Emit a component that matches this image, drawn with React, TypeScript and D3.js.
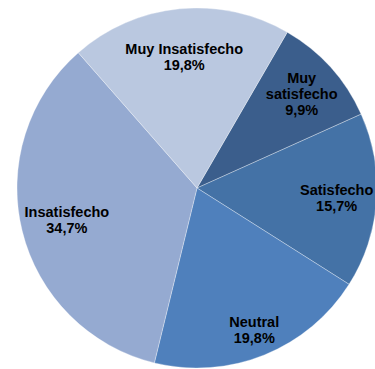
import React from "react";
import * as d3 from "d3";

const categories = ["Muy satisfecho", "Satisfecho", "Neutral", "Insatisfecho", "Muy Insatisfecho"];
const values = [9.9, 15.7, 19.8, 34.7, 19.8];
const labelLines = [
  ["Muy", "satisfecho", "9,9%"],
  ["Satisfecho", "15,7%"],
  ["Neutral", "19,8%"],
  ["Insatisfecho", "34,7%"],
  ["Muy Insatisfecho", "19,8%"],
];

const colors = ["#3B5E8C", "#4472A6", "#4F80BC", "#95AAD1", "#BAC8E0"];
const labelRadius = [141, 140, 153, 134, 132];

export default function App() {
  const W = 375, H = 369;
  const cx = 197, cy = 188, r = 180;
  const start = (30.1 * Math.PI) / 180;
  const pie = d3.pie<number>().sort(null).startAngle(start).endAngle(start + 2 * Math.PI);
  const arcs = pie(values);
  const arc = d3.arc<d3.PieArcDatum<number>>().innerRadius(0).outerRadius(r);
  const lineH = 16;
  return (
    <svg width={W} height={H} style={{ position: "absolute", left: 0, top: 0 }}>
      <g transform={`translate(${cx},${cy})`}>
        {arcs.map((a, i) => (
          <path key={i} d={arc(a) || ""} fill={colors[i]} stroke="#ffffff" strokeOpacity={0.45} strokeWidth={0.7} />
        ))}
        {arcs.map((a, i) => {
          const lr = labelRadius[i];
          const la = d3.arc<d3.PieArcDatum<number>>().innerRadius(lr).outerRadius(lr);
          const [x, y] = la.centroid(a);
          const lines = labelLines[i];
          const y0 = y - ((lines.length - 1) * lineH) / 2;
          return (
            <text key={"t" + i} x={x} textAnchor="middle" fontFamily="Liberation Sans, Arial, sans-serif" fontWeight="bold" fontSize={14.5} fill="#000">
              {lines.map((ln, j) => (
                <tspan key={j} x={x} y={y0 + j * lineH} dy="0.35em">{ln}</tspan>
              ))}
            </text>
          );
        })}
      </g>
    </svg>
  );
}
